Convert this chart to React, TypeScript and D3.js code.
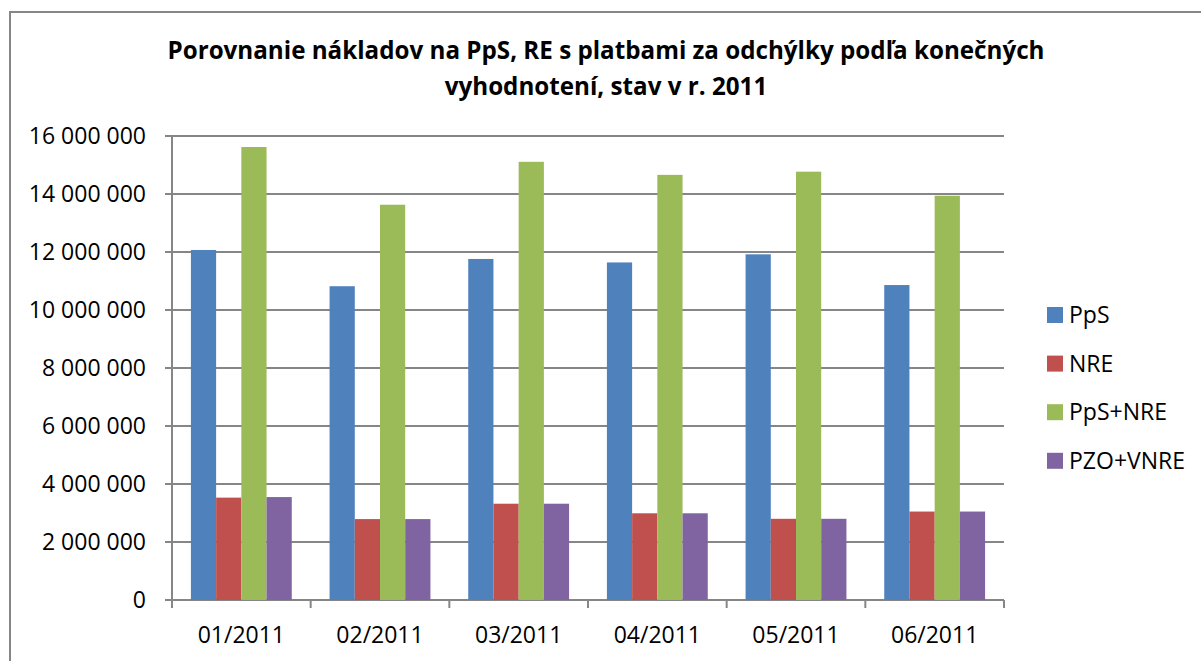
import React from 'react';
import * as d3 from 'd3';

const categories = ['01/2011', '02/2011', '03/2011', '04/2011', '05/2011', '06/2011'];
const seriesNames = ['PpS', 'NRE', 'PpS+NRE', 'PZO+VNRE'];
const seriesColors = ['#4F81BD', '#C0504D', '#9BBB59', '#8064A2'];

const pps = [12070000, 10820000, 11760000, 11640000, 11920000, 10860000];
const nre = [3530000, 2790000, 3320000, 2990000, 2800000, 3050000];
const ppsNre = [15620000, 13630000, 15110000, 14660000, 14770000, 13940000];
const pzoVnre = [3550000, 2790000, 3320000, 2990000, 2800000, 3050000];

const yTicks = [0, 2000000, 4000000, 6000000, 8000000, 10000000, 12000000, 14000000, 16000000];

const titleLines = [
  'Porovnanie nákladov na PpS, RE s platbami za odchýlky podľa konečných',
  'vyhodnotení, stav v r. 2011',
];

const W = 1201;
const H = 661;
const plot = { left: 172, right: 1004, top: 136, bottom: 600 };
const font = "'Open Sans', 'Liberation Sans', sans-serif";
const gridColor = '#868686';

const fmt = (v: number) => d3.format(',')(v).replace(/,/g, ' ');

const App: React.FC = () => {
  const series = [pps, nre, ppsNre, pzoVnre];

  const x0 = d3.scaleBand<string>()
    .domain(categories)
    .range([plot.left, plot.right])
    .paddingInner(0)
    .paddingOuter(0);

  // Excel gap width 150%: 4 bars + 1.5 bar widths of gap per category
  const gap = 1.5 / 5.5;
  const x1 = d3.scaleBand<string>()
    .domain(seriesNames)
    .range([x0.bandwidth() * gap / 2, x0.bandwidth() * (1 - gap / 2)])
    .padding(0);

  const y = d3.scaleLinear()
    .domain([0, 16000000])
    .range([plot.bottom, plot.top]);

  return (
    <div style={{ position: 'absolute', left: 0, top: 0 }}>
      <svg width={W} height={H} style={{ display: 'block', background: '#fff' }}>
        <rect x={10} y={12} width={W + 20} height={H + 20} fill="#fff" stroke={gridColor} strokeWidth={2} />

        {titleLines.map((t, i) => (
          <text
            key={i}
            x={606}
            y={59 + i * 36}
            textAnchor="middle"
            fontFamily={font}
            fontWeight="bold"
            fontSize={24.2}
            fill="#000"
          >
            {t}
          </text>
        ))}

        {/* gridlines + y ticks */}
        {yTicks.map((t) => (
          <g key={t}>
            <line x1={plot.left - 7} x2={plot.right} y1={y(t)} y2={y(t)} stroke={gridColor} strokeWidth={2} />
            <text
              x={146}
              y={y(t)}
              dy="0.36em"
              textAnchor="end"
              fontFamily={font}
              fontSize={23}
              fill="#000"
            >
              {fmt(t)}
            </text>
          </g>
        ))}

        {/* bars */}
        {categories.map((c, ci) => (
          <g key={c} transform={`translate(${x0(c)},0)`}>
            {seriesNames.map((s, si) => (
              <rect
                key={s}
                x={x1(s)}
                y={y(series[si][ci])}
                width={x1.bandwidth()}
                height={plot.bottom - y(series[si][ci])}
                fill={seriesColors[si]}
              />
            ))}
          </g>
        ))}

        {/* y axis line */}
        <line x1={plot.left} x2={plot.left} y1={plot.top} y2={plot.bottom + 8} stroke={gridColor} strokeWidth={2} />

        {/* x axis ticks */}
        {[...categories.map((c) => x0(c) as number), plot.right].map((xv, i) => (
          <line key={i} x1={xv} x2={xv} y1={plot.bottom} y2={plot.bottom + 8} stroke={gridColor} strokeWidth={2} />
        ))}

        {categories.map((c) => (
          <text
            key={c}
            x={(x0(c) as number) + x0.bandwidth() / 2}
            y={643}
            textAnchor="middle"
            fontFamily={font}
            fontSize={23}
            fill="#000"
          >
            {c}
          </text>
        ))}

        {/* legend */}
        {seriesNames.map((s, i) => (
          <g key={s} transform={`translate(1047,${315 + i * 48.6})`}>
            <rect x={0} y={-8} width={16} height={16} fill={seriesColors[i]} />
            <text x={22} y={0} dy="0.36em" fontFamily={font} fontSize={23} fill="#000">
              {s}
            </text>
          </g>
        ))}
      </svg>
    </div>
  );
};

export default App;
